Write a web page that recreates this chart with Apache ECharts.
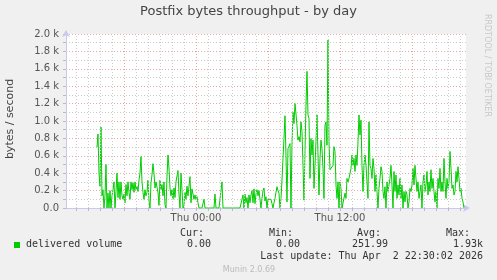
<!DOCTYPE html>
<html><head><meta charset="utf-8">
<script src="https://cdn.jsdelivr.net/npm/echarts@6/dist/echarts.min.js"></script>
<style>html,body{margin:0;padding:0;background:#f0f0f0}#c{width:497px;height:280px}</style>
</head><body><div id="c"></div>
<script>
// delivered volume, bytes/second, one value per 5 minutes starting Wed 15:45
const deliveredA = [700,850,400,250,930,140,210,0,140,500,0,170,0,200,0,140,210,300,0,190,400,120,300,100,300,140,100,160,60,270,140,300,180,100,300,210,290,180,300,210,250,190,320,400,590,300,180,100,210,140,180,320,80,0,290,380,510,400,230,300,320,180,30,320,210,270,140,300,40,0,360,610,460,230,140,210,100,230,120,300,320,430,160,0,400,210,0,30,180,100,250,140];
const deliveredB = [160,360,60,220,160,100,150,100,130,60,0,0,0,0,0,100,0,0,0,0,0,0,0,0,0,0,160,0,0,0,0,0,0,300,0,0,0,0,0,0,0,0,0,0,0,0,0,0,0,0,0,0,0,0,150,0,160,60,120,0,150,60,150,200,60,220,50,160,210,140,200,180,0,110,200,230,80,130,0,100];
const deliveredC = [100,100,100,50,0,60,110,180,245,200,170,0,110,320,570,800,1060,600,70,685,710,740,0,720,1100,970,1200,1080,950,780,820,760,990,880,490,90,650,1180,1570,1070,1030,340,800,610,780,225,490,760,1070,610,150,570,780,685,455,110,950,990,720,1930,760,440,455,420,490,705,650,265,110,300,0,300,225,0,0,0,170,110,340,300,340,320,455,610,490,570,420,610,490,760,1070,840,1010,490,190,490,610,490,300,110,990,490,455,340,570,455,190,380,190,0,225,340,475,420,190,110,245,0,300,190,190,340,490,265,0,420,190,380,110,265,150,340,110,265,0,190,70,190,150,0,70,225,190,265,455,265,490,340,190,300,110,190,265,0,300,380,190,265,420,150,300,190,440,225,340,190,70,190,0,340,225,455,190,300,190,570,300,110,340,225,300,650,455,225,265,150,190,420,300,475,340,190,225,110,70,0];
const delivered = deliveredA.concat(deliveredB, deliveredC);
const startHour = -8.25;          // Wed 15:45, hours relative to Thu 00:00
const stepHour = 5 / 60;
const xMinHour = -10.8333;        // graph start (33.3 h before last update)
const xMaxHour = 22.5;            // Thu 22:30
const hourLines = [-10,-9,-8,-7,-5,-4,-3,-2,-1,1,2,3,4,5,7,8,9,10,11,13,14,15,16,17,19,20,21,22];
const majorHourLines = [-6,0,6,12,18];
const xTickHours = [0, 12];
const xTickLabels = ['Thu 00:00', 'Thu 12:00'];
const yTickLabels = ['0.0','0.2 k','0.4 k','0.6 k','0.8 k','1.0 k','1.2 k','1.4 k','1.6 k','1.8 k','2.0 k'];
const statHeads = ['Cur:', 'Min:', 'Avg:', 'Max:'];
const statVals = ['0.00', '0.00', '251.99', '1.93k'];

const chart = echarts.init(document.getElementById('c'), null, {renderer: 'canvas'});
const sans = 'DejaVu Sans';
const headX = [204, 293, 381, 470];
const valX = [211, 300, 388, 483];
const graphics = [
  {type:'text', left:'center', top:5, style:{text:'Postfix bytes throughput - by day', font:'13px "DejaVu Sans"', fill:'#444'}},
  {type:'text', x:10, y:119, rotation:Math.PI/2, style:{text:'bytes / second', font:'11px "DejaVu Sans"', fill:'#444', align:'center', verticalAlign:'middle'}},
  {type:'text', x:487, y:14, rotation:-Math.PI/2, style:{text:'RRDTOOL / TOBI OETIKER', font:'8px "DejaVu Sans"', fill:'#c8c8c8', align:'left', verticalAlign:'middle'}},
  {type:'rect', shape:{x:14, y:242, width:6, height:6}, style:{fill:'#00cc00'}},
  {type:'text', x:26, y:244.5, style:{text:'delivered volume', font:'10px "DejaVu Sans Mono"', fill:'#333', verticalAlign:'middle'}},
  {type:'text', x:483, y:256.5, style:{text:'Last update: Thu Apr  2 22:30:02 2026', font:'10px "DejaVu Sans Mono"', fill:'#333', align:'right', verticalAlign:'middle'}},
  {type:'text', x:249, y:269.5, style:{text:'Munin 2.0.69', font:'8px "DejaVu Sans"', fill:'#bbb', align:'center', verticalAlign:'middle'}}
];
statHeads.forEach((t,i)=>graphics.push({type:'text', x:headX[i], y:233.5, style:{text:t, font:'10px "DejaVu Sans Mono"', fill:'#333', align:'right', verticalAlign:'middle'}}));
statVals.forEach((t,i)=>graphics.push({type:'text', x:valX[i], y:244.5, style:{text:t, font:'10px "DejaVu Sans Mono"', fill:'#333', align:'right', verticalAlign:'middle'}}));

chart.setOption({
  backgroundColor: '#f0f0f0',
  animation: false,
  grid: {left:66, top:34, width:400, height:174, show:true, backgroundColor:'#ffffff', borderWidth:0},
  xAxis: {
    type:'value', min:xMinHour, max:xMaxHour,
    axisLine:{show:true, onZero:false, lineStyle:{color:'#c8c8f0', width:1}, symbol:['none','arrow'], symbolSize:[6,7], symbolOffset:[0,4]},
    axisTick:{show:true, customValues: hourLines.concat(majorHourLines), length:3, inside:false, lineStyle:{color:'#bbbbbb'}},
    axisLabel:{show:true, customValues: xTickHours, formatter:v=>xTickLabels[xTickHours.indexOf(v)] || '', color:'#555', fontFamily:sans, fontSize:10, margin:5},
    splitLine:{show:false}
  },
  yAxis: {
    type:'value', min:0, max:2000, interval:200,
    axisLine:{show:true, onZero:false, lineStyle:{color:'#c8c8f0', width:1}, symbol:['none','arrow'], symbolSize:[6,7], symbolOffset:[0,4]},
    axisTick:{show:true, length:3, lineStyle:{color:'#bbbbbb'}},
    minorTick:{show:true, splitNumber:2, length:3, lineStyle:{color:'#bbbbbb'}},
    axisLabel:{formatter:(v)=>yTickLabels[Math.round(v/200)], color:'#555', fontFamily:sans, fontSize:10, margin:7},
    splitLine:{show:true, lineStyle:{color:'#e8a8a8', type:[1,2], width:1}},
    minorSplitLine:{show:true, lineStyle:{color:'#cccccc', type:[1,2], width:1}}
  },
  graphic: graphics,
  series: [
    {type:'line', data:[], z:1, silent:true,
     markLine:{silent:true, symbol:'none', animation:false, label:{show:false}, lineStyle:{color:'#cccccc', type:[1,2], width:1},
       data: hourLines.map(h=>({xAxis:h}))}},
    {type:'line', data:[], z:1, silent:true,
     markLine:{silent:true, symbol:'none', animation:false, label:{show:false}, lineStyle:{color:'#e8a8a8', type:[1,2], width:1},
       data: majorHourLines.map(h=>({xAxis:h}))}},
    {type:'line', z:3, symbol:'none', lineStyle:{color:'#00cc00', width:1}, itemStyle:{color:'#00cc00'},
     data: delivered.map((v,i)=>[startHour + i*stepHour, v])}
  ]
});
</script></body></html>
